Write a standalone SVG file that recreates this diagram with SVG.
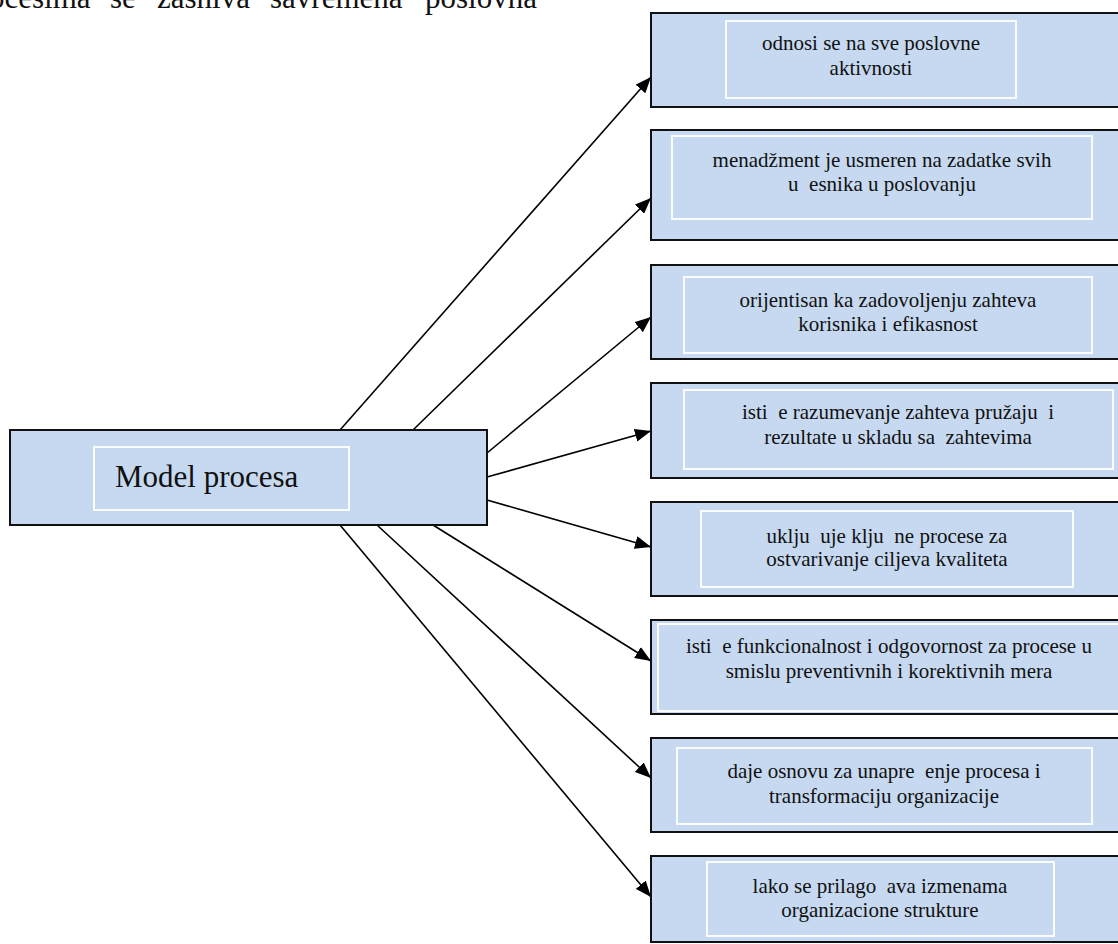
<svg xmlns="http://www.w3.org/2000/svg" width="1118" height="944" viewBox="0 0 1118 944">
  <style>
    .box { fill: #c6d9f0; stroke: #111; stroke-width: 2; }
    .inner { fill: #c6d9f0; stroke: #ffffff; stroke-width: 1.8; }
    .txt { font-size: 21px; fill: #111; text-anchor: middle; white-space: pre; }
    .big { font-size: 31px; fill: #111; white-space: pre; }
    .conn { stroke: #000; stroke-width: 1.6; fill: none; marker-end: url(#arrow); }
  </style>
  <defs>
    <marker id="arrow" markerUnits="userSpaceOnUse" markerWidth="17" markerHeight="13" refX="16" refY="6.5" orient="auto">
      <path d="M0,0 L16,6.5 L0,13 Z" fill="#000"/>
    </marker>
  </defs>

  <rect width="1118" height="944" fill="#ffffff"/>

  <g font-family="'Liberation Serif', 'Times New Roman', serif">
    <!-- body text running above the figure -->
    <text class="big" y="8"><tspan x="-11">ocesima</tspan><tspan x="110">se</tspan><tspan x="157">zasniva</tspan><tspan x="270">savremena</tspan><tspan x="425">poslovna</tspan></text>

    <!-- connectors -->
    <g id="connectors">
      <line class="conn" x1="340" y1="430" x2="651" y2="77"/>
      <line class="conn" x1="413" y1="430" x2="651" y2="198"/>
      <line class="conn" x1="487" y1="453" x2="651" y2="317"/>
      <line class="conn" x1="487" y1="477" x2="651" y2="431"/>
      <line class="conn" x1="487" y1="500" x2="651" y2="547"/>
      <line class="conn" x1="433" y1="525" x2="651" y2="661"/>
      <line class="conn" x1="377" y1="525" x2="651" y2="778"/>
      <line class="conn" x1="340" y1="525" x2="651" y2="897"/>
    </g>

    <!-- central node -->
    <g id="model-procesa">
      <rect class="box" x="10" y="430" width="477" height="95" stroke-width="1.5"/>
      <rect class="inner" x="94" y="447" width="255" height="63"/>
      <text class="big" x="115" y="487">Model procesa</text>
    </g>

    <g id="n1">
      <rect class="box" x="651" y="13" width="480" height="94"/>
      <rect class="inner" x="726" y="21" width="290" height="77"/>
      <text class="txt" x="871" y="50">odnosi se na sve poslovne</text>
      <text class="txt" x="871" y="75">aktivnosti</text>
    </g>

    <g id="n2">
      <rect class="box" x="651" y="130" width="480" height="110"/>
      <rect class="inner" x="672" y="136" width="420" height="83"/>
      <text class="txt" x="882" y="167">menadžment je usmeren na zadatke svih</text>
      <text class="txt" x="882" y="191">u  esnika u poslovanju</text>
    </g>

    <g id="n3">
      <rect class="box" x="651" y="265" width="480" height="94"/>
      <rect class="inner" x="684" y="277" width="408" height="76"/>
      <text class="txt" x="888" y="307">orijentisan ka zadovoljenju zahteva</text>
      <text class="txt" x="888" y="331">korisnika i efikasnost</text>
    </g>

    <g id="n4">
      <rect class="box" x="651" y="383" width="480" height="95"/>
      <rect class="inner" x="684" y="390" width="429" height="79"/>
      <text class="txt" x="898" y="419">isti  e razumevanje zahteva pružaju  i</text>
      <text class="txt" x="898" y="444">rezultate u skladu sa  zahtevima</text>
    </g>

    <g id="n5">
      <rect class="box" x="651" y="502" width="480" height="94"/>
      <rect class="inner" x="701" y="511" width="372" height="76"/>
      <text class="txt" x="887" y="543">uklju  uje klju  ne procese za</text>
      <text class="txt" x="887" y="566">ostvarivanje ciljeva kvaliteta</text>
    </g>

    <g id="n6">
      <rect class="box" x="651" y="620" width="480" height="94"/>
      <rect class="inner" x="658" y="624" width="470" height="87"/>
      <text class="txt" x="889" y="653">isti  e funkcionalnost i odgovornost za procese u</text>
      <text class="txt" x="889" y="678">smislu preventivnih i korektivnih mera</text>
    </g>

    <g id="n7">
      <rect class="box" x="651" y="738" width="480" height="94"/>
      <rect class="inner" x="677" y="748" width="415" height="76"/>
      <text class="txt" x="884" y="778">daje osnovu za unapre  enje procesa i</text>
      <text class="txt" x="884" y="803">transformaciju organizacije</text>
    </g>

    <g id="n8">
      <rect class="box" x="651" y="856" width="480" height="86"/>
      <rect class="inner" x="707" y="862" width="347" height="74"/>
      <text class="txt" x="880" y="893">lako se prilago  ava izmenama</text>
      <text class="txt" x="880" y="917">organizacione strukture</text>
    </g>
  </g>
</svg>
